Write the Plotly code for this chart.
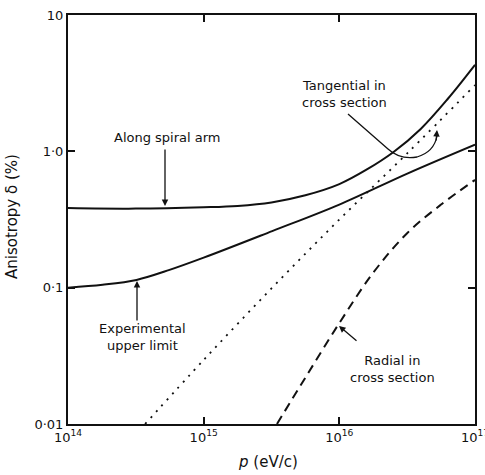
import plotly.graph_objects as go

# ---- data ----
spiral_p = [1.0e14, 3.16e14, 1.0e15, 1.78e15, 3.16e15, 5.62e15, 1.0e16, 1.585e16, 2.51e16, 3.98e16, 6.31e16, 1.0e17]
spiral_d = [0.384, 0.380, 0.389, 0.398, 0.422, 0.476, 0.575, 0.733, 0.989, 1.46, 2.43, 4.31]

exp_p = [1.0e14, 1.8e14, 3.2e14, 5.6e14, 1.0e15, 3.2e15, 1.0e16, 3.2e16, 1.0e17]
exp_d = [0.100, 0.105, 0.114, 0.135, 0.166, 0.260, 0.407, 0.690, 1.12]

tang_p = [3.7e14, 1.0e15, 3.2e15, 1.0e16, 3.2e16, 1.0e17]
tang_d = [0.0100, 0.0295, 0.100, 0.316, 0.977, 3.06]

rad_p = [3.47e15, 5.62e15, 1.0e16, 1.78e16, 3.16e16, 5.62e16, 1.0e17]
rad_d = [0.0100, 0.0219, 0.0550, 0.129, 0.251, 0.407, 0.617]

x_tickvals = [1e14, 1e15, 1e16, 1e17]
x_ticktext = ["10<sup>14</sup>", "10<sup>15</sup>", "10<sup>16</sup>", "10<sup>17</sup>"]
y_tickvals = [0.01, 0.1, 1, 10]
y_ticktext = ["0·01", "0·1", "1·0", "10"]

FONT = "DejaVu Sans"
BLACK = "#111111"

fig = go.Figure()
fig.add_trace(go.Scatter(x=spiral_p, y=spiral_d, mode="lines", line=dict(color=BLACK, width=2, shape="spline"), showlegend=False))
fig.add_trace(go.Scatter(x=exp_p, y=exp_d, mode="lines", line=dict(color=BLACK, width=2, shape="spline"), showlegend=False))
fig.add_trace(go.Scatter(x=tang_p, y=tang_d, mode="lines", line=dict(color=BLACK, width=1.8, dash="2px,6px", shape="spline"), showlegend=False))
fig.add_trace(go.Scatter(x=rad_p, y=rad_d, mode="lines", line=dict(color=BLACK, width=2, dash="9px,6px", shape="spline"), showlegend=False))

axis_common = dict(
    type="log", showgrid=False, zeroline=False,
    showline=True, linecolor=BLACK, linewidth=2, mirror="ticks",
    ticks="inside", ticklen=7, tickwidth=2, tickcolor=BLACK,
    tickfont=dict(family=FONT, size=13, color=BLACK),
    ticklabeloverflow="allow", automargin=False,
)
fig.update_xaxes(range=[14, 17], tickvals=x_tickvals, ticktext=x_ticktext, **axis_common)
fig.update_yaxes(range=[-2, 1], tickvals=y_tickvals, ticktext=y_ticktext, **axis_common)

def px(x):
    return (x - 68) / 407.0

def py(y):
    return (424 - y) / 409.0

anns = []
txt_common = dict(xref="paper", yref="paper", showarrow=False, xanchor="center", yanchor="middle", align="center")
# axis titles
anns.append(dict(text="<i>p</i> (eV/c)", x=px(268), y=py(462),
                 font=dict(family=FONT, size=15, color=BLACK), **txt_common))
anns.append(dict(text="Anisotropy δ (%)", x=px(12), y=py(217), textangle=-90,
                 font=dict(family=FONT, size=15, color=BLACK), **txt_common))
# labels
lab_font = dict(family=FONT, size=13, color=BLACK)
anns.append(dict(text="Along spiral arm", x=px(167), y=py(137), font=lab_font, **txt_common))
anns.append(dict(text="Tangential in<br>cross section", x=px(344), y=py(94), font=lab_font, **txt_common))
anns.append(dict(text="Experimental<br>upper limit", x=px(142), y=py(337), font=lab_font, **txt_common))
anns.append(dict(text="Radial in<br>cross section", x=px(392), y=py(369), font=lab_font, **txt_common))
# arrows
arrow_common = dict(xref="paper", yref="paper", text="", showarrow=True, arrowhead=2,
                    arrowsize=1, arrowwidth=1.3, arrowcolor=BLACK)
anns.append(dict(x=px(165), y=py(206), ax=0, ay=-58, **arrow_common))
anns.append(dict(x=px(137), y=py(281), ax=0, ay=41, **arrow_common))
anns.append(dict(x=px(339), y=py(326), ax=19, ay=16, **arrow_common))
anns.append(dict(x=px(437), y=py(130), ax=-1, ay=12, **arrow_common))

path = (f"M {px(348)},{py(114)} L {px(388)},{py(149)} "
        f"Q {px(400)},{py(160)} {px(417)},{py(157)} "
        f"Q {px(434)},{py(152)} {px(437)},{py(136)}")
fig.add_shape(type="path", path=path, xref="paper", yref="paper",
              line=dict(color=BLACK, width=1.3))

fig.update_layout(
    width=485, height=475,
    margin=dict(l=68, r=10, t=15, b=51),
    paper_bgcolor="white", plot_bgcolor="white",
    annotations=anns,
    font=dict(family=FONT, color=BLACK),
)

fig.write_html("out.html")
